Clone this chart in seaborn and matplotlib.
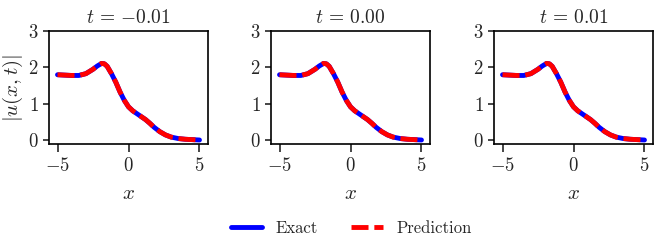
import numpy as np
import pandas as pd
import seaborn as sns
import matplotlib.pyplot as plt

# values
times = [-0.01, 0.00, 0.01]
x_vals = [-5.0, -4.5, -4.0, -3.5, -3.0, -2.5, -2.2, -1.9, -1.7, -1.5, -1.2, -0.9, -0.6, -0.3,
          0.0, 0.3, 0.6, 0.9, 1.2, 1.5, 1.8, 2.2, 2.6, 3.0, 3.5, 4.0, 4.5, 5.0]
exact_vals = [1.80, 1.79, 1.78, 1.78, 1.83, 1.95, 2.04, 2.11, 2.10, 2.03, 1.83, 1.60, 1.33, 1.10,
              0.92, 0.81, 0.73, 0.65, 0.57, 0.47, 0.36, 0.24, 0.15, 0.09, 0.05, 0.03, 0.02, 0.01]
pred_vals = [1.80, 1.79, 1.78, 1.78, 1.83, 1.95, 2.04, 2.11, 2.10, 2.03, 1.83, 1.60, 1.33, 1.10,
             0.92, 0.81, 0.73, 0.65, 0.57, 0.47, 0.36, 0.24, 0.15, 0.09, 0.05, 0.03, 0.02, 0.01]

sns.set_style('ticks')
plt.rcParams['font.family'] = ['cmr10', 'DejaVu Serif']
plt.rcParams['mathtext.fontset'] = 'cm'
plt.rcParams['axes.formatter.use_mathtext'] = True
plt.rcParams['axes.unicode_minus'] = True

df = pd.DataFrame({'x': x_vals, 'exact': exact_vals, 'pred': pred_vals})

fig = plt.figure(figsize=(6.54, 2.44), dpi=100)
lefts = [49 / 654, 271 / 654, 494 / 654]
axes = [fig.add_axes([l, 100 / 244, 159 / 654, 113 / 244]) for l in lefts]

for i, (ax, t) in enumerate(zip(axes, times)):
    sns.lineplot(data=df, x='x', y='exact', ax=ax, color='blue', lw=3.5, label='Exact')
    sns.lineplot(data=df, x='x', y='pred', ax=ax, color='red', lw=3.5, label='Prediction')
    ax.lines[1].set_dashes((3.5, 1.2))
    ax.set_xlim(-5.6, 5.6)
    ax.set_ylim(-0.1, 3.0)
    ax.set_xticks([-5, 0, 5])
    ax.set_yticks([0, 1, 2, 3])
    ax.tick_params(labelsize=13.5, width=1.2)
    ax.tick_params(axis='x', length=5.5, pad=4)
    ax.tick_params(axis='y', length=4.5, pad=3)
    for s in ax.spines.values():
        s.set_linewidth(1.2)
        s.set_color('black')
    ax.set_title(r'$t\, =\, {%.2f}$' % t, fontsize=14, pad=6)
    ax.set_xlabel('$x$', fontsize=15, labelpad=7)
    ax.set_ylabel('$|u(x,t)|$' if i == 0 else '', fontsize=15, labelpad=2)
    ax.get_legend().remove()

handles, labels = axes[0].get_legend_handles_labels()
fig.legend(handles, labels, loc='center', bbox_to_anchor=(351 / 654, 16 / 244), ncol=2,
           frameon=False, fontsize=12, handlelength=1.9, columnspacing=2.0)

fig.savefig('out.png', dpi=100)
